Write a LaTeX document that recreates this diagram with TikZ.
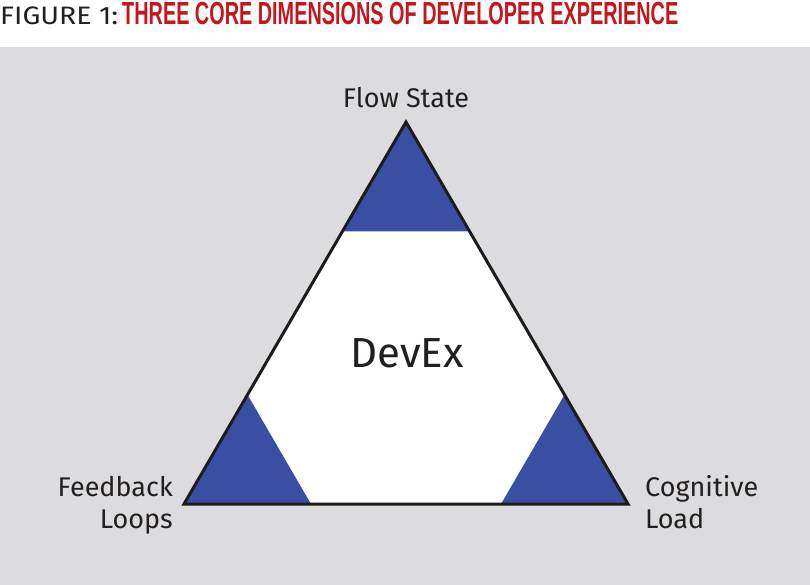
\documentclass[tikz,border=0pt]{standalone}
\usepackage{fontspec}
\setmainfont{Fira Sans}
\newfontfamily\headfont{Liberation Sans}
\usepackage{graphicx}
\usetikzlibrary{calc,positioning}
\definecolor{bggray}{HTML}{DCDCDE}
\definecolor{devblue}{HTML}{3A4FA3}
\definecolor{headred}{HTML}{C4161C}
\definecolor{edgeblack}{HTML}{1C1C1C}
\definecolor{textblack}{HTML}{231F20}

\begin{document}
\begin{tikzpicture}[x=1pt,y=-1pt,
	dimlabel/.style={font=\fontsize{27}{32}\selectfont,text=textblack,inner sep=0pt},
	corner/.style={fill=devblue}]
			\useasboundingbox (0,0) rectangle (810,585);
			\fill[bggray] (0,47) rectangle (810,585);
			% heading
			\node[anchor=base west,inner sep=0pt,text=textblack] (figno) at (0,25) {\resizebox{118pt}{17.7pt}{FIGURE 1:}};
			\node[anchor=base west,inner sep=0pt,text=headred] (heading) at (122,25) {\resizebox{556pt}{22.3pt}{\headfont\bfseries THREE CORE DIMENSIONS OF DEVELOPER EXPERIENCE}};
			% triangle
			\coordinate (flow) at (406,122);
			\coordinate (feedback) at (184,504);
			\coordinate (cognitive) at (628,504);
			\fill[white] (flow) -- (feedback) -- (cognitive) -- cycle;
			\foreach \c/\a/\b in {flow/feedback/cognitive,feedback/cognitive/flow,cognitive/flow/feedback}
				\fill[corner] (\c) -- ($(\c)!0.286!(\a)$) -- ($(\c)!0.286!(\b)$) -- cycle;
			\draw[edgeblack,line width=3pt] (flow) -- (feedback) -- (cognitive) -- cycle;
			% labels
			\node[dimlabel,above=14pt of flow] (flowlbl) {Flow State};
			\node[dimlabel,align=right,anchor=base east] (feedbacklbl) at ($(feedback)+(-11,24)$) {Feedback\\Loops};
			\node[dimlabel,align=left,anchor=base west] (cognitivelbl) at ($(cognitive)+(17,24)$) {Cognitive\\Load};
			\node[font=\fontsize{42}{48}\selectfont,text=textblack,inner sep=0pt,anchor=base] (devex) at (407,367) {DevEx};
		\end{tikzpicture}
\end{document}
